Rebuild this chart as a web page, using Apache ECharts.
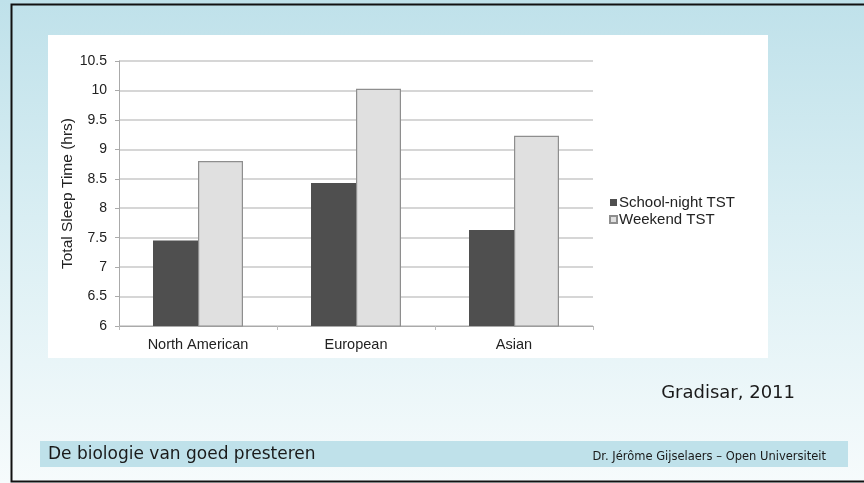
<!DOCTYPE html>
<html><head><meta charset="utf-8">
<script src="https://cdn.jsdelivr.net/npm/echarts@6/dist/echarts.min.js"></script>
<style>html,body{margin:0;padding:0;background:#fff}#c{width:864px;height:483px}</style>
</head><body><div id="c"></div>
<script>
const categories = ['North American', 'European', 'Asian'];
const schoolNight = [7.45, 8.43, 7.63];
const weekend = [8.80, 10.03, 9.23];
const seriesNames = ['School-night TST', 'Weekend TST'];
const yTicks = [6, 6.5, 7, 7.5, 8, 8.5, 9, 9.5, 10, 10.5];
const yAxisTitle = 'Total Sleep Time (hrs)';
const citation = 'Gradisar, 2011';
const footerLeft = 'De biologie van goed presteren';
const footerRight = 'Dr. Jérôme Gijselaers – Open Universiteit';

const chart = echarts.init(document.getElementById('c'), null, {renderer: 'canvas'});
const font = 'Liberation Sans, Arial, sans-serif';
const slideFont = '"DejaVu Sans", Roboto, sans-serif';
chart.setOption({
  animation: false,
  graphic: [
    {type: 'rect', z: -10, shape: {x: 0, y: 0, width: 864, height: 483},
     style: {fill: new echarts.graphic.LinearGradient(0, 0, 0, 1, [
       {offset: 0, color: '#bfe1ea'}, {offset: 0.45, color: '#d9eef3'}, {offset: 1, color: '#f6fbfc'}])}},
    {type: 'rect', z: -9, shape: {x: 48, y: 35, width: 720, height: 323}, style: {fill: '#ffffff'}},
    {type: 'rect', z: -8, shape: {x: 40, y: 441, width: 808, height: 26}, style: {fill: '#bfe1ea'}},
    {type: 'polyline', z: 50, shape: {points: [[864, 4.5], [11.5, 4.5], [11.5, 481.5], [864, 481.5]]},
     style: {stroke: '#111', lineWidth: 2, fill: null}},
    {type: 'text', z: 50, left: 48, top: 446, style: {text: footerLeft, font: '17px ' + slideFont, fill: '#1a1a1a'}},
    {type: 'text', z: 50, right: 38, top: 451, style: {text: footerRight, font: '11.5px ' + slideFont, fill: '#1a1a1a'}},
    {type: 'text', z: 50, right: 69, top: 384, style: {text: citation, font: '18px ' + slideFont, fill: '#1a1a1a'}}
  ],
  legend: {
    orient: 'vertical', left: 604, top: 190, itemWidth: 7, itemHeight: 7, itemGap: 2,
    icon: 'rect', textStyle: {fontFamily: font, fontSize: 15, color: '#222', padding: [0, 0, 0, -3]},
    data: seriesNames
  },
  grid: {left: 119, top: 61, width: 474, height: 265, containLabel: false},
  xAxis: {
    type: 'category', data: categories,
    axisLine: {lineStyle: {color: '#aaaaaa'}},
    axisTick: {show: true, length: 4, lineStyle: {color: '#bbbbbb'}},
    axisLabel: {fontFamily: font, fontSize: 14.5, color: '#222', margin: 11}
  },
  yAxis: {
    type: 'value', min: yTicks[0], max: yTicks[yTicks.length - 1], interval: 0.5,
    name: yAxisTitle, nameLocation: 'middle', nameGap: 43, nameMoveOverlap: false,
    nameTextStyle: {fontFamily: font, fontSize: 15.5, color: '#222'},
    axisLine: {show: true, lineStyle: {color: '#aaaaaa'}},
    axisTick: {show: true, length: 4, lineStyle: {color: '#aaaaaa'}},
    axisLabel: {fontFamily: font, fontSize: 14, color: '#222', margin: 12},
    splitLine: {lineStyle: {color: '#c9c9c9', width: 1.5}}
  },
  series: [
    {name: seriesNames[0], type: 'bar', data: schoolNight, barWidth: 45, barGap: '0%',
     itemStyle: {color: '#4f4f4f', borderColor: '#4f4f4f', borderWidth: 0}},
    {name: seriesNames[1], type: 'bar', data: weekend, barWidth: 45,
     itemStyle: {color: '#e0e0e0', borderColor: '#8e8e8e', borderWidth: 1.2}}
  ]
});
</script></body></html>
